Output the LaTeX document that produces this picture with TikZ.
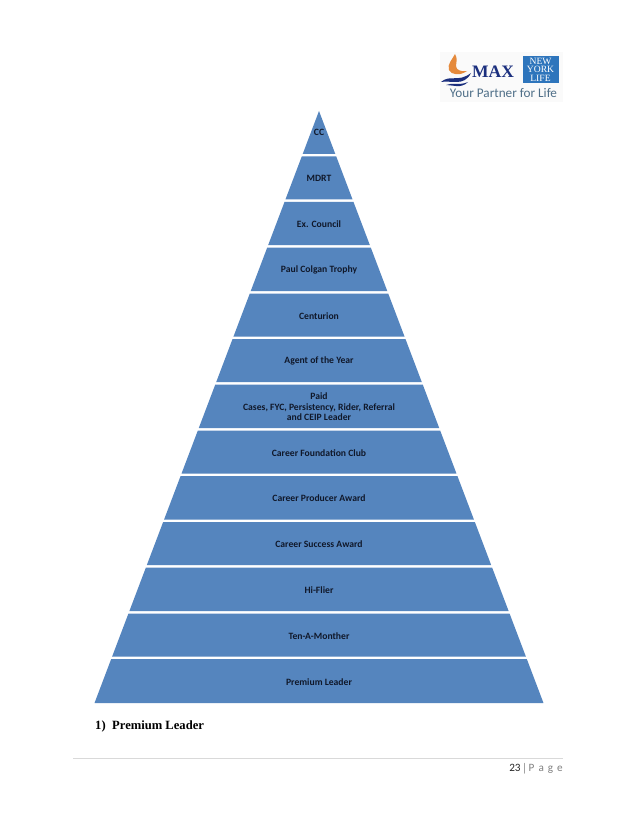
\documentclass[tikz,border=0pt]{standalone}
\usepackage{fontspec}
\setmainfont{Carlito}
\newfontfamily\serifbody{Liberation Serif}
\newfontfamily\logoserif{Liberation Serif}
\definecolor{pyr}{HTML}{5585BE}
\definecolor{lab}{HTML}{10182A}
\definecolor{logoblue}{HTML}{2E75BC}
\definecolor{logonavy}{HTML}{1B2F7E}
\definecolor{logoorange}{HTML}{E58A3C}
\definecolor{logotext}{HTML}{4F6F88}
\tikzset{
  x=1pt,y=-1pt,
  layer/.style={fill=pyr,draw=none},
  lab/.style={text=lab,font=\bfseries\fontsize{9.65}{10.4}\selectfont,align=center,inner sep=0pt},
}
\newcommand{\pyrlayer}[4]{% top, bottom, name, text
  \pgfmathsetmacro{\tw}{(#1-111)*0.3792}
  \pgfmathsetmacro{\bw}{(#2-111)*0.3792}
  \fill[layer] (319-\tw,#1) -- (319+\tw,#1) -- (319+\bw,#2) -- (319-\bw,#2) -- cycle;
  \node[lab] (#3) at (319,{(#1+#2)/2+0.7}) {#4};
}
\begin{document}
\begin{tikzpicture}
\useasboundingbox (0,0) rectangle (638,826);
\fill[white] (0,0) rectangle (638,826);
% logo
\fill[black!2] (440,52) rectangle (563,102);
\fill[logoorange] (455,54) .. controls (452,60) and (447,64) .. (449,70)
  .. controls (451,75) and (460,76) .. (467,71)
  .. controls (461,72) and (456,70) .. (456,66)
  .. controls (456,62) and (458,59) .. (455,54) -- cycle;
\fill[logonavy] (441,82) .. controls (450,74) and (458,83) .. (471,73)
  .. controls (464,87) and (451,80) .. (441,82) -- cycle;
\fill[logonavy] (446,85) .. controls (453,82) and (459,86) .. (468,82)
  .. controls (461,89) and (453,85) .. (446,85) -- cycle;
\node[inner sep=0pt,text=logonavy,font=\logoserif\bfseries\fontsize{17.5}{18}\selectfont] (logomax) at (493,71.5) {MAX};
\fill[logoblue] (522.5,56) rectangle (558.5,83.5);
\node[inner sep=0pt,text=white,align=center,font=\logoserif\fontsize{9.6}{8.4}\selectfont] (logony) at (540.5,69.5) {NEW\\YORK\\LIFE};
\node[inner sep=0pt,text=logotext,font=\fontsize{13.2}{14}\selectfont] (logotag) at (503.5,93) {Your Partner for Life};
% pyramid
\pyrlayer{111}{154}{l1}{}
\node[lab] (cc) at (319,132.5) {CC};
\pyrlayer{156.5}{199.5}{l2}{MDRT}
\pyrlayer{202}{245}{l3}{Ex. Council}
\pyrlayer{247.5}{291}{l4}{Paul Colgan Trophy}
\pyrlayer{293.5}{336.5}{l5}{Centurion}
\pyrlayer{339}{382}{l6}{Agent of the Year}
\pyrlayer{384.5}{428}{l7}{Paid\\Cases, FYC, Persistency, Rider, Referral\\and CEIP Leader}
\pyrlayer{430.5}{473.5}{l8}{Career Foundation Club}
\pyrlayer{476}{519.5}{l9}{Career Producer Award}
\pyrlayer{522}{565}{l10}{Career Success Award}
\pyrlayer{567.5}{611}{l11}{Hi-Flier}
\pyrlayer{613.5}{656.5}{l12}{Ten-A-Monther}
\pyrlayer{659}{703}{l13}{Premium Leader}
% caption
\node[anchor=base west,inner sep=0pt,text=black,font=\serifbody\bfseries\fontsize{12.6}{14}\selectfont] (cap) at (95,729) {1)\hspace{6.5pt}Premium Leader};
% footer
\draw[black!15,line width=0.7pt] (73,758) -- (563,758);
\node[anchor=base east,inner sep=0pt,font=\fontsize{11.2}{12}\selectfont] (pg) at (563,771) {\textcolor{black!85}{23 $|$} \textcolor{black!50}{P\hspace{1.5pt} a\hspace{1.5pt} g\hspace{1.5pt} e}};
\end{tikzpicture}
\end{document}
